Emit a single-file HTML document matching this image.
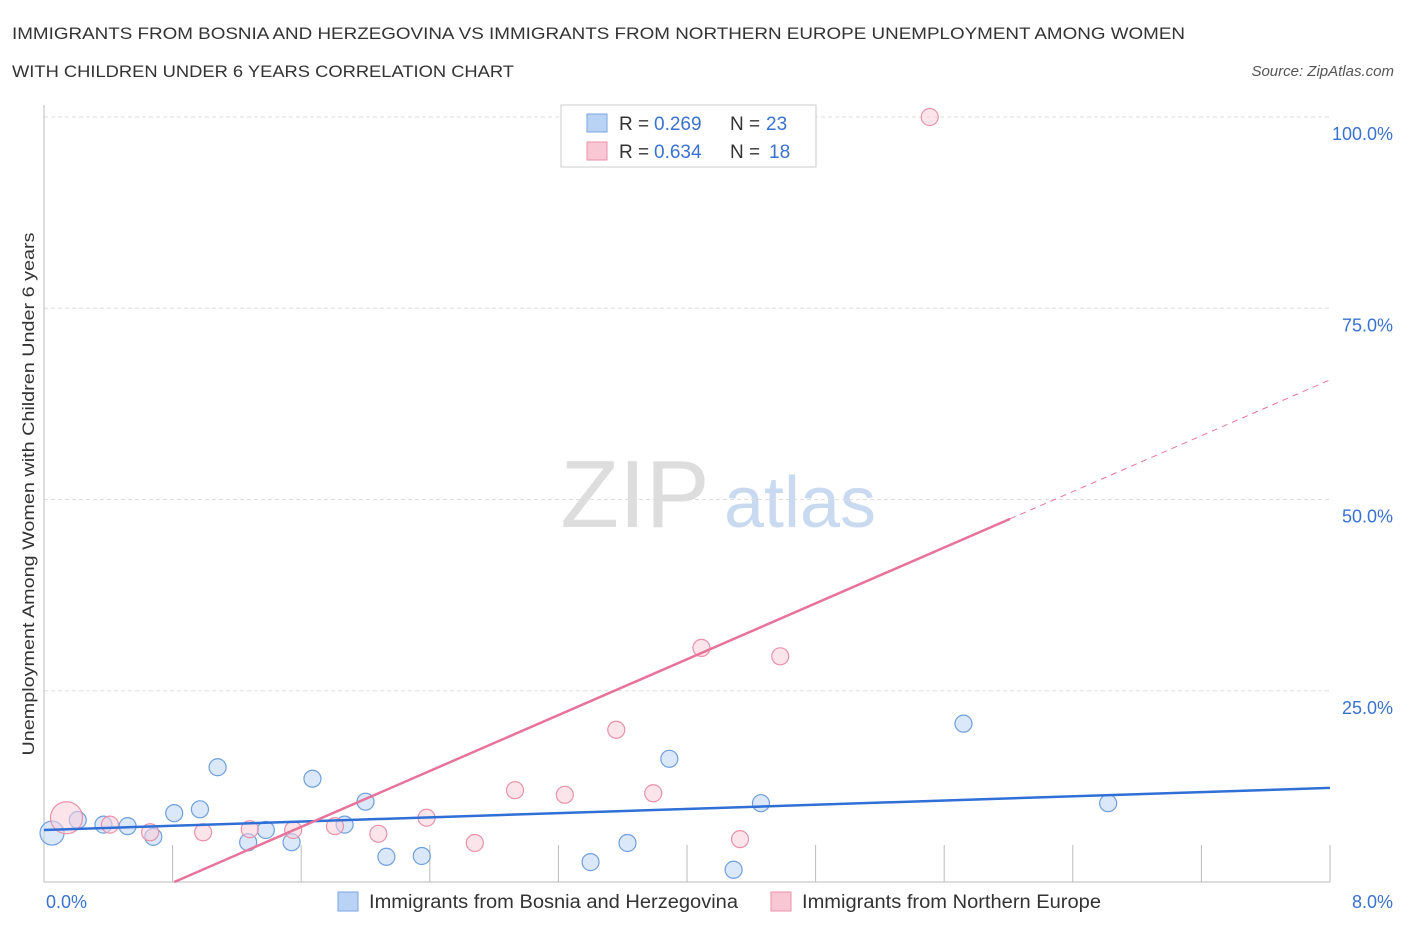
<!DOCTYPE html>
<html><head><meta charset="utf-8">
<style>
body{margin:0;background:#fff;font-family:"Liberation Sans",sans-serif;}
svg text{font-family:"Liberation Sans",sans-serif;}
</style></head>
<body>
<svg id="chart" width="1406" height="930" xmlns="http://www.w3.org/2000/svg">
<text x="12" y="39" font-size="17" fill="#333" textLength="1173" lengthAdjust="spacingAndGlyphs">IMMIGRANTS FROM BOSNIA AND HERZEGOVINA VS IMMIGRANTS FROM NORTHERN EUROPE UNEMPLOYMENT AMONG WOMEN</text>
<text x="12" y="77" font-size="17" fill="#333" textLength="502" lengthAdjust="spacingAndGlyphs">WITH CHILDREN UNDER 6 YEARS CORRELATION CHART</text>
<text x="1394" y="76" font-size="15" fill="#555" font-style="italic" text-anchor="end">Source: ZipAtlas.com</text>
<text x="635" y="527" font-size="96" fill="#ddd" font-family="Liberation Serif" text-anchor="middle">ZIP</text>
<text x="800" y="527" font-size="72" fill="#c9daf0" text-anchor="middle">atlas</text>
<text transform="translate(34,494) rotate(-90)" font-size="17" fill="#333" text-anchor="middle" textLength="523" lengthAdjust="spacingAndGlyphs">Unemployment Among Women with Children Under 6 years</text>
<g id="grid"></g><g id="marks"></g>
<rect x="561" y="105" width="255" height="62" fill="#fff" stroke="#ccc"/>
<rect x="587" y="114" width="20" height="18" fill="#b9d3f5" stroke="#7aa6e0"/>
<rect x="587" y="142" width="20" height="18" fill="#f9c6d4" stroke="#e892ab"/>
<g font-size="19">
<text x="619" y="130" fill="#333">R =</text><text x="654" y="130" fill="#3a72d0">0.269</text>
<text x="730" y="130" fill="#333">N =</text><text x="766" y="130" fill="#3a72d0">23</text></g>
<g font-size="19">
<text x="619" y="158" fill="#333">R =</text><text x="654" y="158" fill="#3a72d0">0.634</text>
<text x="730" y="158" fill="#333">N =</text><text x="769" y="158" fill="#3a72d0">18</text></g>
<text x="46" y="908" font-size="18" fill="#3a72d0">0.0%</text>
<text x="1393" y="908" font-size="18" fill="#3a72d0" text-anchor="end">8.0%</text>
<rect x="338" y="892" width="20" height="19" fill="#b9d3f5" stroke="#7aa6e0"/>
<text x="369" y="908" font-size="19" fill="#333" textLength="369" lengthAdjust="spacingAndGlyphs">Immigrants from Bosnia and Herzegovina</text>
<rect x="771" y="892" width="20" height="19" fill="#f9c6d4" stroke="#e892ab"/>
<text x="802" y="908" font-size="19" fill="#333" textLength="299" lengthAdjust="spacingAndGlyphs">Immigrants from Northern Europe</text>
</svg>
<script>
const yTicks=[25,50,75,100];
const yTickLabels=["25.0%","50.0%","75.0%","100.0%"];
const blueX=[0.05,0.21,0.37,0.52,0.68,0.81,0.97,1.08,1.27,1.38,1.54,1.67,1.87,2.00,2.13,2.35,3.40,3.63,3.89,4.29,4.46,5.72,6.62];
const blueY=[6.4,8.1,7.5,7.3,5.9,9.0,9.5,15.0,5.2,6.8,5.2,13.5,7.5,10.5,3.3,3.4,2.6,5.1,16.1,1.6,10.3,20.7,10.3];
const pinkX=[0.14,0.41,0.66,0.99,1.28,1.55,1.81,2.08,2.38,2.68,2.93,3.24,3.56,3.79,4.09,4.33,4.58,5.51];
const pinkY=[8.4,7.5,6.5,6.5,6.9,6.8,7.3,6.3,8.4,5.1,12.0,11.4,19.9,11.6,30.6,5.6,29.5,100];
const blueTrend=[6.8,12.3];
const pinkTrend=[9.13,-7.4];
const NS="http://www.w3.org/2000/svg";
const X=v=>44+v*160.75, Y=v=>882-v*7.65;
function mk(t,a,p){const e=document.createElementNS(NS,t);for(const k in a)e.setAttribute(k,a[k]);p.appendChild(e);return e;}
const g=document.getElementById('grid'),m=document.getElementById('marks');
yTicks.forEach((t,i)=>{
 const l=mk('line',{x1:44,x2:1330,y1:Y(t),y2:Y(t),stroke:'#ddd','stroke-dasharray':'4,3'},g);
 
 
 const tx=mk('text',{x:1393,y:Y(t)+23,'font-size':18,fill:'#3a72d0','text-anchor':'end'},g);
 tx.textContent=yTickLabels[i];
 
 
});
const ax=mk('line',{x1:44,x2:44,y1:105,y2:882,stroke:'#bbb'},g);


const bx=mk('line',{x1:44,x2:1330,y1:882,y2:882,stroke:'#bbb'},g);


for(let i=1;i<=10;i++){const t=mk('line',{x1:X(i*0.8),x2:X(i*0.8),y1:845,y2:882,stroke:'#bbb'},g);
 
 }
blueX.forEach((x,i)=>{const c=mk('circle',{cx:X(x),cy:Y(blueY[i]),r:i==0?12:8.5,fill:'rgba(195,217,246,0.6)',stroke:'#6f9fdf','stroke-width':1.2},m);
 
 });
pinkX.forEach((x,i)=>{const c=mk('circle',{cx:X(x),cy:Y(pinkY[i]),r:i==0?16:8.5,fill:'rgba(250,205,218,0.55)',stroke:'#e892ab','stroke-width':1.2},m);
 
 });
const bl=mk('line',{x1:X(0),y1:Y(blueTrend[0]),x2:X(8),y2:Y(blueTrend[1]),stroke:'#2f6fd6','stroke-width':2.5},m);


const x0=-pinkTrend[1]/pinkTrend[0], xs=6.01;
const pl=mk('line',{x1:X(x0),y1:Y(0),x2:X(xs),y2:Y(pinkTrend[0]*xs+pinkTrend[1]),stroke:'#e8739a','stroke-width':2.5},m);


const pd=mk('line',{x1:X(xs),y1:Y(pinkTrend[0]*xs+pinkTrend[1]),x2:X(8),y2:Y(pinkTrend[0]*8+pinkTrend[1]),stroke:'#e8739a','stroke-width':1,'stroke-dasharray':'6,5'},m);


</script>
</body></html>
